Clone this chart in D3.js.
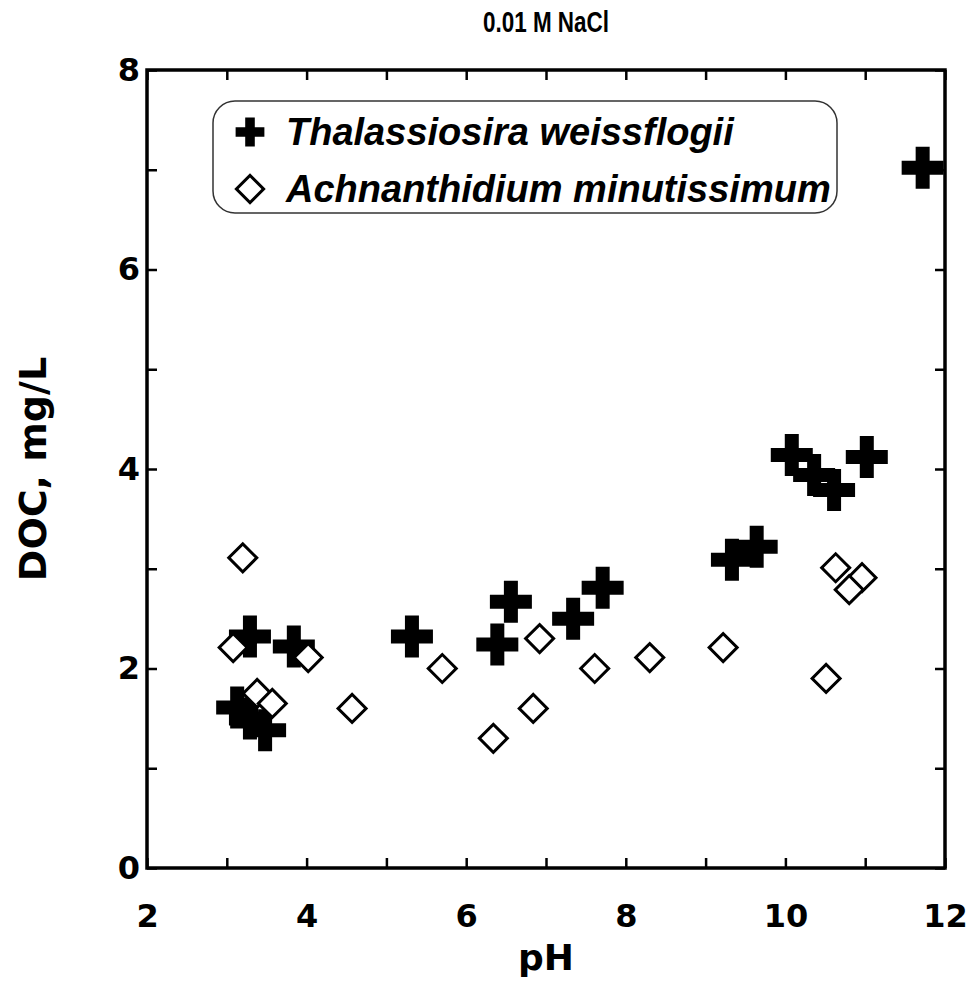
<!DOCTYPE html>
<html lang="en">
  <head>
    <meta charset="utf-8">
    <title>0.01 M NaCl</title>
    <script src="https://d3js.org/d3.v7.js"></script>
    <style>
      body { margin: 0; background: white; }
    </style>
  </head>

  <body>

  <script>

// data: pH and DOC (mg/L)

  const thalPH  = [3.13, 3.29, 3.48, 3.29, 3.84, 5.32, 6.39, 6.56, 7.34, 7.71, 9.33, 9.64, 10.08, 10.36, 10.61, 11.02, 11.72];
  const thalDOC = [1.61, 1.50, 1.38, 2.32, 2.22, 2.32, 2.24, 2.67, 2.50, 2.81, 3.09, 3.22, 4.14, 3.94, 3.79, 4.12, 7.02];

  const achPH  = [3.20, 3.08, 4.02, 3.38, 3.57, 4.57, 5.70, 6.34, 6.84, 6.92, 7.61, 8.30, 9.22, 10.51, 10.63, 10.96, 10.80];
  const achDOC = [3.11, 2.21, 2.11, 1.75, 1.65, 1.60, 2.00, 1.30, 1.60, 2.30, 2.00, 2.11, 2.21, 1.90, 3.01, 2.91, 2.79];

  const xTicks = [2, 3, 4, 5, 6, 7, 8, 9, 10, 11, 12];
  const yTicks = [0, 1, 2, 3, 4, 5, 6, 7, 8];
  const seriesNames = ["Thalassiosira weissflogii", "Achnanthidium minutissimum"];

  const w = 975;
  const h = 981;
  const margin = {top: 70, right: 30, bottom: 113, left: 147};

  const xScale = d3.scaleLinear()
      .domain([2, 12])
      .range([margin.left, w - margin.right]);

  const yScale = d3.scaleLinear()
      .domain([0, 8])
      .range([h - margin.bottom, margin.top]);

  const svg = d3.select("body")
    .append("svg")
      .attr("width", w)
      .attr("height", h);

  svg.append("rect")
      .attr("width", w)
      .attr("height", h)
      .attr("fill", "white");

// axes, ticks point inward on all four sides

  const tickFont = "'DejaVu Sans', Verdana, sans-serif";

  const xAxis = d3.axisBottom(xScale)
      .tickValues(xTicks)
      .tickSizeInner(-10)
      .tickSizeOuter(0)
      .tickPadding(36)
      .tickFormat(d => d % 2 === 0 ? d : "");

  const yAxis = d3.axisLeft(yScale)
      .tickValues(yTicks)
      .tickSizeInner(-10)
      .tickSizeOuter(0)
      .tickPadding(7)
      .tickFormat(d => d % 2 === 0 ? d : "");

  const xAxisTop = d3.axisTop(xScale)
      .tickValues(xTicks)
      .tickSizeInner(-10)
      .tickSizeOuter(0)
      .tickFormat("");

  const yAxisRight = d3.axisRight(yScale)
      .tickValues(yTicks)
      .tickSizeInner(-10)
      .tickSizeOuter(0)
      .tickFormat("");

  svg.append("g")
      .attr("transform", `translate(0, ${h - margin.bottom})`)
      .call(xAxis);
  svg.append("g")
      .attr("transform", `translate(${margin.left}, 0)`)
      .call(yAxis);
  svg.append("g")
      .attr("transform", `translate(0, ${margin.top})`)
      .call(xAxisTop);
  svg.append("g")
      .attr("transform", `translate(${w - margin.right}, 0)`)
      .call(yAxisRight);

  svg.selectAll(".domain").remove();
  svg.selectAll(".tick line")
      .attr("stroke", "black")
      .attr("stroke-width", 2.5);
  svg.selectAll(".tick text")
      .attr("fill", "black")
      .attr("font-family", tickFont)
      .attr("font-weight", "bold")
      .attr("font-size", 32);

  // plot frame
  svg.append("rect")
      .attr("x", xScale(2))
      .attr("y", yScale(8))
      .attr("width", xScale(12) - xScale(2))
      .attr("height", yScale(0) - yScale(8))
      .attr("fill", "none")
      .attr("stroke", "black")
      .attr("stroke-width", 3.5);

// labels

  svg.append("text")
      .attr("x", (xScale(2) + xScale(12)) / 2)
      .attr("y", 32)
      .attr("text-anchor", "middle")
      .attr("font-family", "'Liberation Sans', Arial, sans-serif")
      .attr("font-weight", "bold")
      .attr("font-size", 29)
      .attr("textLength", 126)
      .attr("lengthAdjust", "spacingAndGlyphs")
      .text("0.01 M NaCl");

  svg.append("text")
      .attr("x", (xScale(2) + xScale(12)) / 2)
      .attr("y", 970)
      .attr("text-anchor", "middle")
      .attr("font-family", tickFont)
      .attr("font-weight", "bold")
      .attr("font-size", 36)
      .text("pH");

  svg.append("text")
      .attr("transform", `translate(46, ${(yScale(0) + yScale(8)) / 2}) rotate(-90)`)
      .attr("text-anchor", "middle")
      .attr("font-family", tickFont)
      .attr("font-weight", "bold")
      .attr("font-size", 38)
      .text("DOC, mg/L");

// markers

  const cross = d3.symbol().type(d3.symbolCross).size(980);
  const diamond = d3.symbol().type(d3.symbolSquare).size(392);

  svg.append("g")
    .selectAll("path")
    .data(thalPH.map((p, i) => [p, thalDOC[i]]))
    .enter().append("path")
      .attr("d", cross)
      .attr("transform", d => `translate(${xScale(d[0])}, ${yScale(d[1])})`)
      .attr("fill", "black");

  svg.append("g")
    .selectAll("path")
    .data(achPH.map((p, i) => [p, achDOC[i]]))
    .enter().append("path")
      .attr("d", diamond)
      .attr("transform", d => `translate(${xScale(d[0])}, ${yScale(d[1])}) rotate(45)`)
      .attr("fill", "white")
      .attr("stroke", "black")
      .attr("stroke-width", 3);

// legend

  const legend = svg.append("g");

  legend.append("rect")
      .attr("x", 213)
      .attr("y", 101)
      .attr("width", 624)
      .attr("height", 112)
      .attr("rx", 22)
      .attr("fill", "white")
      .attr("stroke", "#333")
      .attr("stroke-width", 1.5);

  const legendRows = [
    {name: seriesNames[0], sym: d3.symbol().type(d3.symbolCross).size(460), fill: "black", stroke: "none", rot: 0},
    {name: seriesNames[1], sym: d3.symbol().type(d3.symbolSquare).size(370), fill: "white", stroke: "black", rot: 45}
  ];

  legendRows.forEach((r, i) => {
    const cy = 132 + i * 57;
    legend.append("path")
        .attr("d", r.sym)
        .attr("transform", `translate(250, ${cy}) rotate(${r.rot})`)
        .attr("fill", r.fill)
        .attr("stroke", r.stroke)
        .attr("stroke-width", 3);
    legend.append("text")
        .attr("x", 286)
        .attr("y", cy + 13)
        .attr("font-family", "'Liberation Sans', Arial, sans-serif")
        .attr("font-style", "italic")
        .attr("font-weight", "bold")
        .attr("font-size", 38)
        .text(r.name);
  });

    </script>

  </body>

</html>
